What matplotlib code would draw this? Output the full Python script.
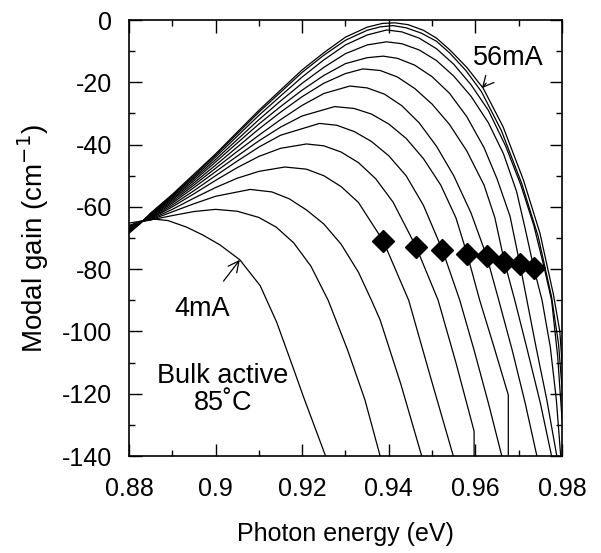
import matplotlib
matplotlib.use("Agg")
import matplotlib.pyplot as plt
from matplotlib.ticker import MultipleLocator, FuncFormatter

plt.rcParams['font.family'] = ['Liberation Sans', 'DejaVu Sans']
plt.rcParams['axes.unicode_minus'] = False

# modal gain spectra (photon energy in eV, gain in cm^-1)
e4 = [0.880, 0.8827, 0.8856, 0.889, 0.8933, 0.897, 0.901, 0.9056, 0.9103, 0.9141, 0.918, 0.9203, 0.9254]
g4 = [-65.2, -64.6, -63.9, -64.4, -66.5, -69.0, -72.2, -77.0, -85.3, -97.0, -112.0, -121.0, -140.0]

e8 = [0.880, 0.8825, 0.885, 0.890, 0.895, 0.900, 0.905, 0.910, 0.914, 0.918, 0.922, 0.926, 0.9305, 0.9345, 0.938]
g8 = [-66.0, -64.7, -64.2, -62.8, -61.5, -60.8, -61.4, -63.4, -66.5, -71.5, -79.0, -90.0, -106.0, -122.0, -140.0]

e12 = [0.880, 0.8825, 0.885, 0.890, 0.895, 0.900, 0.908, 0.913, 0.917, 0.921, 0.925, 0.929, 0.933, 0.936, 0.938, 0.9428, 0.9476]
g12 = [-66.2, -64.8, -64.2, -61.6, -59.0, -56.6, -54.4, -55.2, -57.4, -61.0, -65.5, -72.0, -81.0, -90.0, -96.3, -117.0, -140.0]

e16 = [0.880, 0.8825, 0.885, 0.890, 0.895, 0.900, 0.905, 0.910, 0.916, 0.921, 0.925, 0.929, 0.933, 0.9387, 0.9446, 0.9495, 0.9549]
g16 = [-66.4, -64.8, -64.0, -60.8, -57.2, -53.8, -50.8, -48.6, -47.2, -47.9, -50.0, -53.5, -58.6, -70.9, -90.0, -114.0, -140.0]

e20 = [0.880, 0.8825, 0.885, 0.890, 0.895, 0.900, 0.905, 0.910, 0.915, 0.921, 0.925, 0.929, 0.933, 0.937, 0.941, 0.9463, 0.9514, 0.9555, 0.9597, 0.9597]
g20 = [-66.6, -64.9, -63.8, -60.0, -55.8, -51.5, -47.4, -43.8, -41.2, -39.8, -40.4, -42.4, -45.8, -51.0, -58.5, -72.8, -90.0, -110.0, -132.0, -140.0]

e24 = [0.880, 0.8825, 0.885, 0.890, 0.895, 0.900, 0.905, 0.910, 0.915, 0.924, 0.928, 0.932, 0.936, 0.940, 0.944, 0.948, 0.9524, 0.9564, 0.9597, 0.963, 0.9661]
g24 = [-66.8, -64.9, -63.6, -59.4, -54.8, -50.0, -45.3, -40.8, -37.0, -33.2, -33.8, -35.8, -39.0, -43.6, -50.0, -59.5, -73.9, -90.0, -106.0, -123.0, -140.0]

e28 = [0.880, 0.8825, 0.885, 0.890, 0.895, 0.900, 0.905, 0.910, 0.915, 0.920, 0.9275, 0.932, 0.936, 0.940, 0.944, 0.948, 0.952, 0.9555, 0.9581, 0.961, 0.9643, 0.9676, 0.9676]
g28 = [-67.0, -65.0, -63.4, -58.8, -53.8, -48.7, -43.7, -38.8, -34.4, -30.8, -27.8, -28.4, -30.2, -33.4, -38.0, -44.5, -53.0, -63.5, -75.2, -90.0, -105.0, -120.4, -140.0]

e32 = [0.880, 0.8825, 0.885, 0.890, 0.895, 0.900, 0.905, 0.910, 0.915, 0.920, 0.925, 0.931, 0.935, 0.939, 0.943, 0.947, 0.951, 0.955, 0.959, 0.9626, 0.9654, 0.9685, 0.9715, 0.9742]
g32 = [-67.2, -65.0, -63.2, -58.3, -53.0, -47.6, -42.2, -37.0, -32.0, -27.4, -23.6, -21.2, -21.8, -23.8, -27.5, -33.0, -40.5, -50.0, -62.0, -75.8, -90.0, -106.0, -123.0, -140.0]

e36 = [0.880, 0.8825, 0.885, 0.890, 0.895, 0.900, 0.905, 0.910, 0.915, 0.920, 0.925, 0.930, 0.934, 0.938, 0.942, 0.946, 0.950, 0.954, 0.958, 0.962, 0.9645, 0.9667, 0.9691, 0.972, 0.975, 0.9776]
g36 = [-67.4, -65.1, -63.0, -57.8, -52.3, -46.6, -40.8, -35.0, -29.6, -24.6, -20.3, -17.2, -15.7, -16.2, -18.3, -22.0, -27.0, -33.5, -42.0, -53.0, -63.5, -77.6, -90.0, -106.0, -123.0, -140.0]

e40 = [0.880, 0.8825, 0.885, 0.890, 0.895, 0.900, 0.905, 0.910, 0.915, 0.920, 0.925, 0.930, 0.935, 0.9387, 0.942, 0.946, 0.950, 0.954, 0.958, 0.962, 0.965, 0.968, 0.9703, 0.9719, 0.974, 0.9765, 0.9788]
g40 = [-67.6, -65.2, -62.8, -57.4, -51.6, -45.6, -39.5, -33.4, -27.8, -22.5, -17.8, -14.0, -12.1, -11.6, -12.3, -14.5, -18.2, -23.5, -31.0, -41.0, -51.0, -63.0, -78.5, -90.0, -105.0, -122.0, -140.0]

e44 = [0.880, 0.8825, 0.885, 0.890, 0.895, 0.900, 0.905, 0.910, 0.915, 0.920, 0.925, 0.930, 0.935, 0.9395, 0.943, 0.947, 0.951, 0.955, 0.959, 0.963, 0.9665, 0.9695, 0.9715, 0.9735, 0.9754, 0.9773, 0.9787, 0.9797]
g44 = [-67.8, -65.2, -62.6, -57.0, -51.0, -44.8, -38.4, -32.0, -26.0, -20.3, -15.2, -10.8, -8.0, -7.0, -7.6, -9.6, -13.0, -18.0, -24.5, -33.0, -43.0, -55.0, -67.0, -79.7, -90.0, -105.0, -122.0, -140.0]

e48 = [0.880, 0.8825, 0.885, 0.890, 0.895, 0.900, 0.905, 0.910, 0.915, 0.920, 0.925, 0.930, 0.935, 0.9395, 0.943, 0.947, 0.951, 0.955, 0.959, 0.963, 0.967, 0.9705, 0.9735, 0.9758, 0.9776, 0.979, 0.980]
g48 = [-68.0, -65.3, -62.4, -56.6, -50.5, -44.0, -37.3, -30.6, -24.4, -18.3, -12.8, -8.0, -4.8, -3.2, -3.8, -5.8, -9.2, -14.2, -20.8, -29.0, -40.5, -53.0, -66.0, -79.0, -90.0, -108.0, -128.0]

e52 = [0.880, 0.8825, 0.885, 0.890, 0.895, 0.900, 0.905, 0.910, 0.915, 0.920, 0.925, 0.930, 0.935, 0.938, 0.941, 0.944, 0.9475, 0.951, 0.954, 0.9578, 0.9614, 0.966, 0.9707, 0.9745, 0.9776, 0.9792, 0.980]
g52 = [-68.2, -65.4, -62.2, -56.3, -50.0, -43.4, -36.5, -29.6, -23.2, -16.8, -11.3, -6.5, -3.3, -2.2, -1.8, -2.5, -4.2, -6.8, -10.5, -16.2, -23.0, -35.5, -52.5, -69.5, -89.0, -104.0, -118.0]

e56 = [0.880, 0.8825, 0.885, 0.890, 0.895, 0.900, 0.905, 0.910, 0.915, 0.920, 0.925, 0.930, 0.935, 0.9385, 0.9414, 0.9445, 0.948, 0.951, 0.9541, 0.958, 0.9618, 0.9664, 0.9711, 0.9749, 0.978, 0.9795, 0.980]
g56 = [-68.5, -65.5, -62.0, -56.0, -49.5, -43.0, -36.0, -29.0, -22.5, -16.0, -10.5, -5.5, -2.3, -1.1, -0.9, -1.5, -3.3, -5.8, -9.6, -15.2, -21.9, -34.3, -51.4, -68.4, -88.0, -100.0, -110.0]

# diamond markers (on the 16 ... 44 mA curves)
mark_e = [0.9387, 0.9463, 0.9524, 0.9581, 0.9626, 0.9667, 0.9703, 0.9735]
mark_g = [-70.9, -72.8, -73.9, -75.2, -75.8, -77.6, -78.5, -79.7]

curves = [(e4, g4), (e8, g8), (e12, g12), (e16, g16), (e20, g20), (e24, g24), (e28, g28),
          (e32, g32), (e36, g36), (e40, g40), (e44, g44), (e48, g48), (e52, g52), (e56, g56)]

fig = plt.figure(figsize=(6.01, 5.53), dpi=100)
ax = fig.add_axes([0.2146, 0.1754, 0.7205, 0.7884])

for e, g in curves:
    ax.plot(e, g, color='black', lw=0.9)

ax.plot(mark_e, mark_g, linestyle='none', marker='D', markersize=11, color='black')

ax.set_xlim(0.88, 0.98)
ax.set_ylim(-140, 0)
ax.xaxis.set_major_locator(MultipleLocator(0.02))
ax.xaxis.set_minor_locator(MultipleLocator(0.01))
ax.yaxis.set_major_locator(MultipleLocator(20))
ax.yaxis.set_minor_locator(MultipleLocator(10))
ax.xaxis.set_major_formatter(FuncFormatter(lambda v, p: "%g" % round(v, 3)))
ax.yaxis.set_major_formatter(FuncFormatter(lambda v, p: "%d" % round(v)))
ax.tick_params(which='both', direction='in', top=True, right=True, labelsize=18, width=1)
ax.tick_params(which='major', length=9)
ax.tick_params(which='minor', length=4)
ax.tick_params(axis='x', which='major', pad=15)
ax.tick_params(axis='y', which='major', pad=12)
for s in ax.spines.values():
    s.set_linewidth(1.2)

ax.set_xlabel('Photon energy (eV)', fontsize=18, labelpad=15)
ax.set_ylabel('Modal gain (cm$^{-1}$)', fontsize=20, labelpad=8)

ax.annotate('56mA', xy=(0.9615, -21.9), xytext=(0.9675, -12.2), fontsize=19.5,
            ha='center', va='center',
            arrowprops=dict(arrowstyle='->', color='black', lw=0.9, shrinkA=9, shrinkB=0))
ax.annotate('4mA', xy=(0.9056, -77.0), xytext=(0.8969, -92.8), fontsize=19.5,
            ha='center', va='center',
            arrowprops=dict(arrowstyle='->', color='black', lw=0.9, shrinkA=11, shrinkB=0))
ax.text(0.9017, -118.8, 'Bulk active\n85\u02daC', fontsize=19.5, ha='center', va='center',
        linespacing=1.05)

fig.savefig('out.png', dpi=100)
